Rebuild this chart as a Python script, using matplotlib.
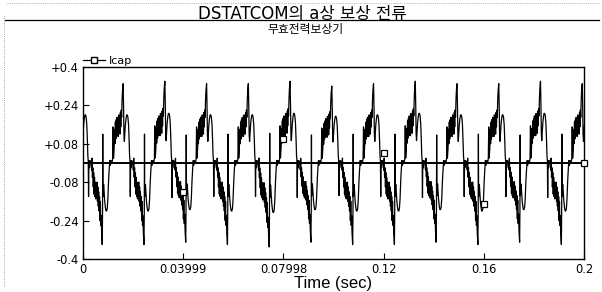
import numpy as np
import matplotlib.pyplot as plt
from matplotlib.lines import Line2D

plt.rcParams['font.family'] = ['DejaVu Sans', 'Noto Sans CJK KR']

# one cycle (phase as fraction of a half cycle, value in kA)
pos_phase = [0.00, 0.03, 0.05, 0.07, 0.10, 0.12, 0.14, 0.16, 0.18, 0.20, 0.22, 0.24,
             0.26, 0.28, 0.30, 0.32, 0.34, 0.36, 0.38, 0.40, 0.42, 0.44, 0.46, 0.48,
             0.50, 0.53, 0.555, 0.57, 0.59, 0.61, 0.64, 0.67, 0.70, 0.73, 0.76, 0.79,
             0.82, 0.84, 0.86, 0.875, 0.89, 0.92, 0.95, 1.00]
pos_value = [0.00, 0.02, 0.15, 0.02, 0.06, 0.14, 0.08, 0.17, 0.10, 0.18, 0.11, 0.19,
             0.12, 0.18, 0.11, 0.20, 0.13, 0.19, 0.12, 0.21, 0.15, 0.22, 0.19, 0.26,
             0.30, 0.33, 0.22, 0.12, 0.09, 0.12, 0.16, 0.185, 0.20, 0.20, 0.19, 0.16,
             0.09, 0.03, 0.01, -0.14, 0.01, -0.02, 0.01, 0.00]
neg_phase = [0.00, 0.02, 0.04, 0.06, 0.08, 0.10, 0.12, 0.14, 0.16, 0.18, 0.20, 0.22,
             0.24, 0.26, 0.28, 0.30, 0.32, 0.34, 0.36, 0.38, 0.40, 0.42, 0.44, 0.46,
             0.48, 0.50, 0.53, 0.545, 0.555, 0.565, 0.58, 0.60, 0.62, 0.65, 0.68, 0.71,
             0.74, 0.77, 0.80, 0.83, 0.86, 0.89, 0.92, 0.95, 1.00]
neg_value = [0.00, -0.03, 0.02, -0.06, -0.02, -0.10, -0.04, -0.13, -0.06, -0.14, -0.08, -0.15,
             -0.09, -0.14, -0.08, -0.16, -0.10, -0.18, -0.12, -0.20, -0.14, -0.24, -0.16, -0.26,
             -0.22, -0.29, -0.34, -0.20, 0.12, -0.14, -0.10, -0.09, -0.12, -0.16, -0.185, -0.20,
             -0.20, -0.19, -0.15, -0.08, -0.03, 0.01, -0.01, 0.01, 0.00]

# peak / trough of each cycle
cycle_peak = [0.33, 0.33, 0.34, 0.33, 0.33, 0.34, 0.32, 0.33, 0.34, 0.33, 0.33, 0.34, 0.33]
cycle_trough = [-0.34, -0.34, -0.33, -0.34, -0.35, -0.33, -0.34, -0.34, -0.33, -0.34, -0.33, -0.34, -0.33]

period = 1 / 60
t_first = -0.0051   # start of first positive half cycle

# Icap markers
mark_t = [0.04, 0.08, 0.12, 0.16, 0.2]
mark_v = [-0.12, 0.10, 0.04, -0.17, 0.0]

yticks = [0.4, 0.24, 0.08, -0.08, -0.24, -0.4]
ylabels = ['+0.4', '+0.24', '+0.08', '-0.08', '-0.24', '-0.4']
xticks = [0, 0.04, 0.08, 0.12, 0.16, 0.2]
xlabels = ['0', '0.03999', '0.07998', '0.12', '0.16', '0.2']

t = []
v = []
for k in range(len(cycle_peak)):
    t0 = t_first + k * period
    for p, val in zip(pos_phase, pos_value):
        t.append(t0 + p * period / 2)
        v.append(val * cycle_peak[k] / 0.33)
    for p, val in zip(neg_phase, neg_value):
        t.append(t0 + period / 2 + p * period / 2)
        v.append(val * abs(cycle_trough[k]) / 0.34)
t = np.array(t)
v = np.array(v)

fig = plt.figure(figsize=(6.02, 2.92), dpi=100)
ax = fig.add_axes([0.138, 0.113, 0.832, 0.658])

ax.axhline(0, color='black', lw=1.4, zorder=1)
ax.plot(t, v, color='black', lw=0.9, zorder=2)
ax.plot(mark_t, mark_v, ls='none', marker='s', ms=5, mfc='white', mec='black',
        mew=0.9, zorder=3, clip_on=False)

ax.set_xlim(0, 0.2)
ax.set_ylim(-0.4, 0.4)
ax.set_yticks(yticks)
ax.set_yticklabels(ylabels)
ax.set_xticks(xticks)
ax.set_xticklabels(xlabels)
ax.tick_params(direction='in', length=4, width=0.8, labelsize=8.3, pad=3)
for s in ax.spines.values():
    s.set_linewidth(1.0)
ax.set_xlabel('Time (sec)', fontsize=12, family='Liberation Sans', labelpad=0)

handle = Line2D([], [], color='black', lw=0.9, marker='s', ms=5, mfc='white', mec='black')
ax.legend([handle], ['Icap'], loc='lower left', bbox_to_anchor=(0.0, 1.005),
          frameon=False, fontsize=8, handlelength=2.0, handletextpad=0.3,
          borderaxespad=0, borderpad=0)

fig.text(0.503, 0.935, 'DSTATCOM의 a상 보상 전류', ha='center', va='baseline',
         fontsize=12, family=['DejaVu Sans', 'Noto Sans CJK KR'])
fig.text(0.508, 0.9, '무효전력보상기', ha='center', va='center',
         fontsize=8.5, family=['Noto Sans CJK KR', 'DejaVu Sans'])
fig.add_artist(Line2D([0.008, 0.995], [0.93, 0.93], color='black', lw=0.9))
fig.add_artist(Line2D([0.006, 0.006], [0.02, 0.95], color='gray', lw=0.6, ls=':'))
fig.add_artist(Line2D([0.01, 0.995], [0.99, 0.99], color='gray', lw=0.5, ls=':'))

fig.savefig('out.png', dpi=100)
